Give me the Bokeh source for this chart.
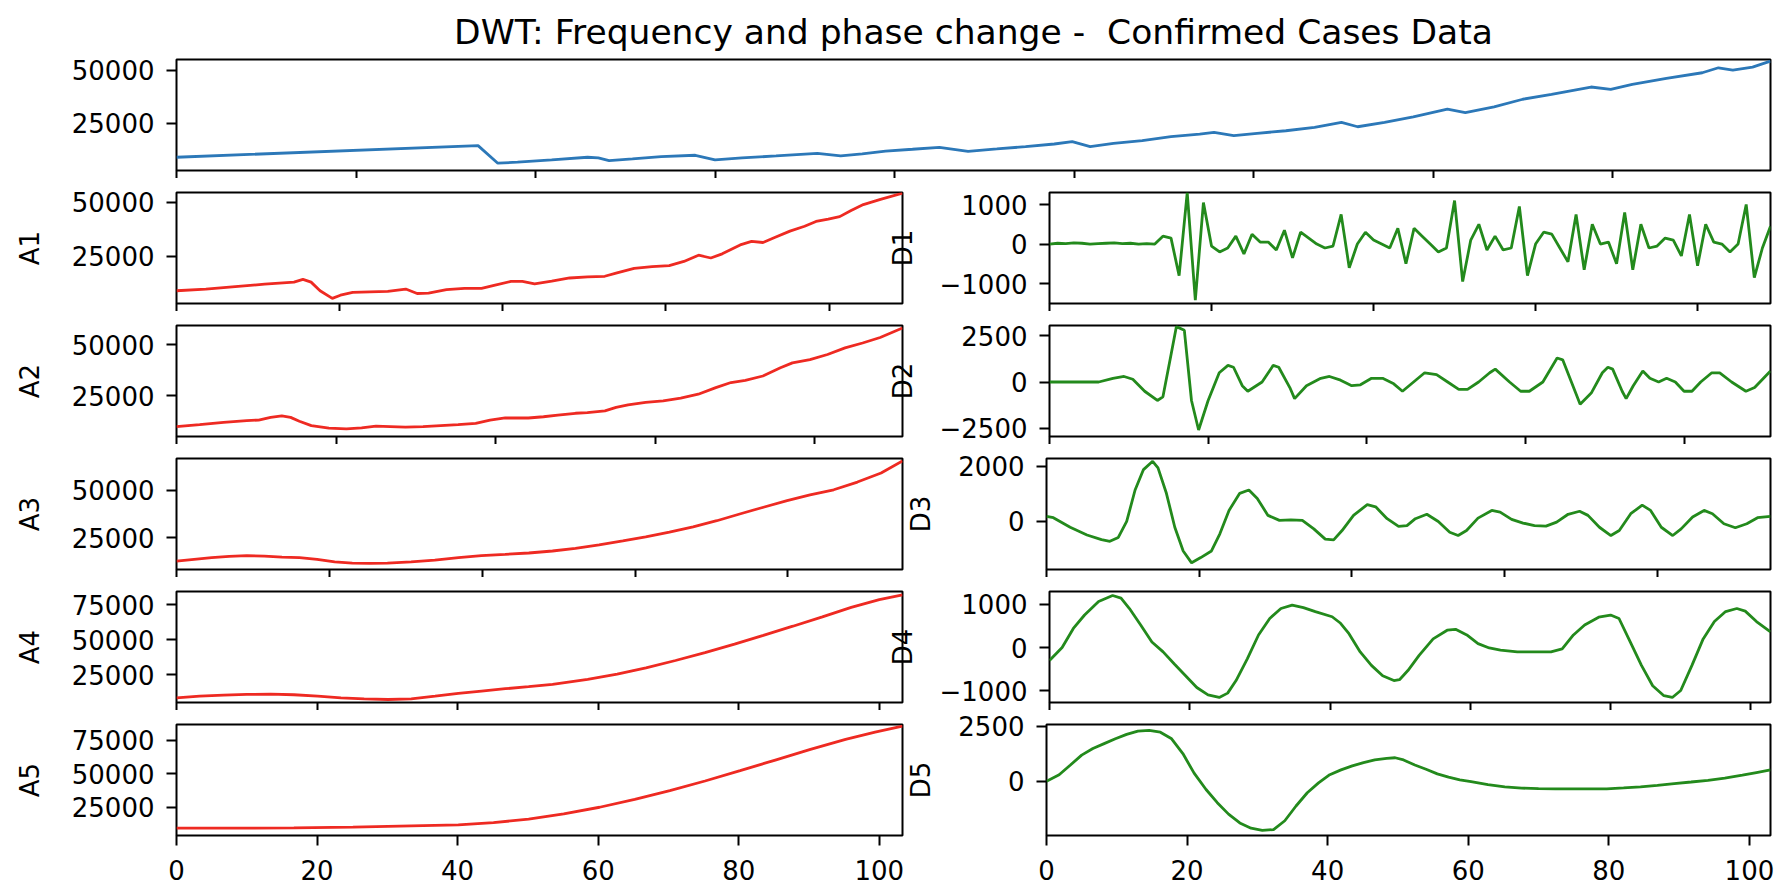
from bokeh.plotting import figure
from bokeh.layouts import column, row
from bokeh.models import Range1d, FixedTicker
from bokeh.embed import file_html
from bokeh.resources import INLINE

TITLE = "DWT: Frequency and phase change -\u00a0 Confirmed Cases Data"

# ---------------- data ----------------
orig_x = [0, 16.8, 17.9, 19, 20.9, 22.9, 23.5, 24.1, 25.4, 27, 28.9, 30, 31.5, 33.4, 35.7, 37, 38.2,
          39.5, 41, 42.5, 44.1, 45.7, 47.3, 48.9, 49.9, 50.9, 52.2, 53.8, 55.4, 57, 57.8, 58.9, 60.2,
          61.8, 63.4, 64.9, 65.8, 67.3, 68.9, 70.8, 71.8, 73.4, 75, 76.6, 78.8, 79.9, 81.1, 83, 85,
          85.9, 86.7, 87.8, 88.8]
orig_y = [9160, 14600, 6370, 6830, 7920, 9160, 8850, 7610, 8390, 9470, 10090, 7920, 8850, 9780, 11020,
          9780, 10710, 12000, 12900, 13820, 11960, 13040, 14130, 15370, 16460, 14130, 15680, 16930,
          18790, 20030, 20810, 19250, 20340, 21580, 23140, 25470, 23450, 25470, 28110, 31680, 30120,
          32760, 36340, 38660, 42080, 40990, 43320, 46120, 48760, 51090, 50000, 51400, 54190]

a1_x = [0, 3.6, 7.2, 10.8, 14.4, 15.5, 16.5, 17.6, 19.1, 20.1, 21.6, 23.7, 25.9, 28.1, 29.5, 30.9,
        33.1, 35.3, 37.4, 38.8, 41.0, 42.4, 43.9, 46.0, 48.2, 50.4, 52.5, 54.0, 56.1, 58.3, 60.4,
        62.2, 64.0, 65.5, 66.9, 69.1, 70.5, 71.9, 73.4, 75.2, 77.0, 78.4, 79.9, 81.3, 82.7, 84.2,
        86.3, 89.0]
a1_y = [9080, 9870, 11000, 12100, 13060, 14330, 13060, 9080, 5570, 7010, 8280, 8600, 8760, 9870,
        7800, 7960, 9550, 10190, 10190, 11460, 13380, 13380, 12260, 13530, 14970, 15450, 15760,
        17360, 19430, 20220, 20700, 22610, 25480, 24200, 26110, 30250, 31850, 31370, 33760, 36620,
        38850, 41080, 42200, 43310, 46180, 48890, 51280, 54140]

a2_x = [0, 2.9, 5.9, 8.8, 10.3, 11.8, 13.2, 14.3, 15.4, 16.9, 19.1, 21.3, 23.2, 25.0, 26.8, 28.7,
        30.9, 33.1, 35.3, 37.5, 39.3, 41.2, 44.1, 46.0, 47.8, 50.0, 51.5, 53.7, 55.1, 56.6, 58.8,
        61.0, 63.2, 65.4, 67.6, 69.5, 71.3, 73.5, 75.7, 77.2, 79.4, 81.6, 83.8, 86.0, 88.2, 91.0]
a2_y = [10000, 11000, 12100, 12900, 13200, 14500, 15200, 14500, 12600, 10500, 9200, 8900, 9400,
        10200, 10000, 9700, 10000, 10500, 11000, 11600, 13200, 14200, 14200, 14800, 15600, 16500,
        16800, 17700, 19400, 20600, 21800, 22600, 23900, 25800, 29000, 31500, 32600, 34700, 38700,
        41100, 42700, 45200, 48400, 50800, 53500, 58100]

a3_x = [0, 2.3, 4.6, 6.9, 9.2, 11.5, 13.8, 16.1, 18.4, 20.7, 23.0, 25.3, 27.6, 30.7, 33.8, 36.9,
        39.9, 43.0, 46.1, 49.2, 52.2, 55.3, 58.4, 61.4, 64.5, 67.6, 70.7, 73.7, 76.8, 79.9, 82.9,
        86.0, 89.1, 92.2, 95.0]
a3_y = [12500, 13390, 14290, 15000, 15360, 15180, 14640, 14290, 13390, 12140, 11430, 11250, 11430,
        12140, 13040, 14290, 15360, 16070, 16790, 17860, 19290, 21070, 23210, 25360, 27860, 30710,
        33930, 37500, 41070, 44640, 47680, 50360, 54460, 59290, 65710]

a4_x = [0, 3.3, 6.7, 10.0, 13.4, 16.7, 20.1, 23.4, 26.7, 30.1, 33.4, 36.8, 40.1, 43.4, 46.8, 50.1,
        53.5, 58.5, 62.7, 66.8, 71.0, 75.2, 79.4, 83.5, 87.7, 91.9, 96.0, 100.0, 103.3]
a4_y = [8650, 9860, 10580, 11060, 11300, 10820, 9860, 8650, 7930, 7450, 7930, 9860, 11780, 13460,
        15150, 16590, 18270, 21870, 25500, 30000, 35300, 40900, 47000, 53300, 59800, 66500, 73200,
        78800, 82200]

a5_x = [0, 8.4, 16.7, 25.1, 33.4, 40.1, 45.1, 50.1, 55.1, 60.2, 65.2, 70.2, 75.2, 80.2, 85.2, 90.2,
        95.2, 99.4, 103.3]
a5_y = [9400, 9400, 9650, 10150, 11140, 11880, 13600, 16100, 20050, 25000, 30940, 37380, 44550,
        52230, 60150, 68070, 75500, 80940, 85400]

d1_y = [0, 20, 10, 30, 20, 0, 10, 20, 30, 10, 20, 0, 10, 0, 200, 150, -800, 1300, -1420, 1050,
        -50, -200, -100, 200, -250, 250, 50, 50, -150, 350, -350, 300, 150, 0, -100, -50, 750,
        -600, 0, 300, 100, 0, -100, 400, -500, 400, 200, 0, -200, -100, 1100, -950, 100, 500,
        -150, 200, -150, -100, 950, -800, 0, 300, 250, -100, -450, 750, -650, 500, 0, 50, -500,
        800, -650, 500, -100, -50, 150, 100, -300, 750, -550, 500, 50, 0, -200, 0, 1000, -850,
        -100, 450]
d1_x = list(range(len(d1_y)))

d2_x = [0, 3, 6.2, 8, 9.4, 10.5, 12, 13.6, 14.3, 15.2, 16, 17, 17.9, 18.8, 20, 21.4, 22.5, 23.2,
        24.3, 25, 26.8, 28.2, 28.9, 30.3, 30.9, 32.4, 34.2, 35.3, 36.7, 38.1, 39.2, 40.6, 42, 43.4,
        44.5, 45.9, 47.3, 48.8, 50.2, 51.6, 52.7, 54.1, 55.5, 56.2, 58, 59.4, 60.5, 62.2, 64, 64.7,
        65.8, 66.9, 68.3, 69.7, 70.4, 71, 72.2, 72.7, 73.6, 74.8, 75.7, 76.8, 77.8, 78.9, 80, 81,
        82.1, 83.5, 84.5, 86, 87.8, 88.9, 90.9]
d2_y = [0, 0, 0, 200, 300, 150, -500, -1000, -800, 1200, 3000, 2800, -1000, -2600, -1000, 500, 900,
        800, -200, -500, 0, 900, 800, -300, -900, -200, 200, 300, 100, -200, -150, 200, 200, -100,
        -500, 0, 500, 400, 0, -400, -400, 0, 500, 700, 0, -500, -500, 0, 1300, 1200, 0, -1200,
        -600, 500, 800, 700, -500, -900, -200, 600, 200, 0, 200, 0, -500, -500, 0, 500, 500, 0,
        -500, -300, 600]

d3_x = [0, 0.9, 3.1, 5.3, 7.2, 8.3, 9.4, 10.5, 11.6, 12.7, 13.9, 14.6, 15.7, 16.8, 17.9, 19.0, 20.2,
        21.6, 22.7, 23.9, 25.3, 26.5, 27.6, 29.0, 30.5, 32.0, 33.5, 35.0, 36.5, 37.6, 38.7, 40.2,
        42.0, 43.1, 44.6, 46.1, 47.2, 48.3, 49.8, 51.3, 52.8, 53.9, 55.0, 56.5, 58.3, 59.4, 60.9,
        62.4, 63.9, 65.4, 66.8, 68.3, 69.8, 70.9, 72.4, 73.9, 75.0, 76.5, 78.0, 79.1, 80.5, 82.0,
        83.1, 84.6, 86.1, 87.2, 88.7, 90.2, 91.7, 93.1, 94.8]
d3_y = [185, 135, -210, -490, -660, -720, -580, 0, 1140, 1880, 2180, 1940, 1020, -210, -1070, -1500,
        -1310, -1070, -450, 400, 1020, 1140, 830, 220, 40, 60, 40, -270, -640, -670, -330, 220, 610,
        530, 100, -180, -150, 100, 260, 0, -390, -510, -330, 120, 400, 340, 75, -60, -150, -170,
        -25, 260, 370, 220, -210, -510, -330, 280, 590, 400, -210, -510, -270, 160, 400, 280, -85,
        -230, -85, 135, 185]

d4_x = [0, 1.8, 3.4, 5.0, 7.0, 9.0, 10.2, 11.4, 13.0, 14.6, 16.2, 17.8, 19.4, 21.0, 22.6, 24.2, 25.4,
        26.6, 28.2, 29.8, 31.4, 33.0, 34.6, 36.2, 37.9, 40.3, 41.5, 42.7, 44.3, 45.9, 47.5, 49.1,
        49.9, 51.1, 52.7, 54.7, 56.7, 57.9, 59.5, 61.1, 62.7, 64.3, 66.7, 69.1, 71.5, 73.1, 74.7,
        76.3, 78.3, 80.0, 81.2, 82.8, 84.4, 86.0, 87.6, 88.8, 90.0, 91.6, 93.2, 94.8, 96.4, 98.0,
        99.2, 100.8, 102.8]
d4_y = [-300, 0, 440, 750, 1060, 1200, 1140, 900, 520, 130, -100, -380, -650, -920, -1090, -1150,
        -1050, -760, -260, 290, 670, 900, 980, 920, 830, 710, 560, 320, -100, -410, -650, -760,
        -740, -530, -180, 200, 400, 420, 290, 90, -10, -60, -100, -100, -100, -30, 290, 520, 700,
        750, 670, 130, -410, -880, -1110, -1150, -990, -410, 200, 600, 830, 900, 840, 600, 360]

d5_x = [0, 1.8, 3.4, 5.0, 6.6, 8.2, 9.8, 11.4, 13.0, 14.6, 16.2, 17.8, 19.4, 21.0, 22.7, 24.3, 25.9,
        27.5, 29.1, 30.7, 32.3, 33.9, 35.5, 37.1, 38.7, 40.3, 41.9, 43.5, 45.1, 46.7, 48.4, 49.6,
        50.8, 52.4, 54.0, 55.6, 57.2, 58.8, 60.4, 62.8, 65.2, 67.6, 70.0, 72.4, 77.3, 79.7, 82.1,
        84.5, 86.9, 89.3, 91.7, 94.1, 96.5, 99.0, 101.0, 103.0]
d5_y = [0, 300, 740, 1190, 1490, 1710, 1930, 2130, 2280, 2310, 2230, 1930, 1260, 370, -370, -970,
        -1490, -1890, -2130, -2230, -2190, -1790, -1120, -520, -70, 300, 520, 700, 850, 970, 1040,
        1070, 970, 740, 550, 340, 190, 70, -15, -150, -250, -310, -330, -340, -340, -340, -300,
        -250, -180, -100, -30, 45, 150, 280, 400, 520]

# axis ranges / ticks / labels
orig_xr, orig_yr = (0, 88.8), (2950, 54970)
a_xr = [(0, 89), (0, 91), (0, 95), (0, 103.3), (0, 103.3)]
a_yr = [(3185, 54460), (5160, 59350), (8040, 66960), (5290, 84600), (3960, 86630)]
d_xr = [(0, 89), (0, 90.9), (0, 94.8), (0, 102.8), (0, 103)]
d_yr = [(-1504, 1304), (-2950, 3060), (-1742, 2282), (-1266, 1292), (-2460, 2580)]

orig_xticks = [0, 10, 20, 30, 40, 50, 60, 70, 80]
level_xticks = [[0, 20, 40, 60, 80], [0, 20, 40, 60, 80], [0, 20, 40, 60, 80],
                [0, 20, 40, 60, 80, 100], [0, 20, 40, 60, 80, 100]]
orig_yticks = [25000, 50000]
orig_ylabels = ["25000", "50000"]
a_yticks = [[25000, 50000], [25000, 50000], [25000, 50000],
            [25000, 50000, 75000], [25000, 50000, 75000]]
a_ylabels = [["25000", "50000"], ["25000", "50000"], ["25000", "50000"],
             ["25000", "50000", "75000"], ["25000", "50000", "75000"]]
d_yticks = [[-1000, 0, 1000], [-2500, 0, 2500], [0, 2000], [-1000, 0, 1000], [0, 2500]]
d_ylabels = [["\u22121000", "0", "1000"], ["\u22122500", "0", "2500"], ["0", "2000"],
             ["\u22121000", "0", "1000"], ["0", "2500"]]
a_names = ["A1", "A2", "A3", "A4", "A5"]
d_names = ["D1", "D2", "D3", "D4", "D5"]

a_series = [(a1_x, a1_y), (a2_x, a2_y), (a3_x, a3_y), (a4_x, a4_y), (a5_x, a5_y)]
d_series = [(d1_x, d1_y), (d2_x, d2_y), (d3_x, d3_y), (d4_x, d4_y), (d5_x, d5_y)]

BLUE, RED, GREEN = "#2c78b8", "#ee2a22", "#238a1c"
FONT = "DejaVu Sans"
TICK_FS = "26px"

# layout (px)
LEFT_B = 176
A_FRAME_W = 726
D_FRAME_W = 724
GAP = 144          # A frame right edge -> D frame left edge
RIGHT_B = 8
FRAME_H = 111
A_RB = 2           # right border of the A figures
OVERLAP = 20       # D figures slide under/over the A figures' right edge (like matplotlib)


def make_fig(width, height, xr, yr, xticks, yticks, ylabels, borders, show_xlabels, ylabel=None,
             lab_standoff=0, xtick_out=10):
    bl, br, bt, bb = borders
    p = figure(width=width, height=height, x_range=Range1d(*xr), y_range=Range1d(*yr),
               output_backend="svg", toolbar_location=None,
               min_border_left=bl, min_border_right=br, min_border_top=bt, min_border_bottom=bb)
    p.grid.visible = False
    p.outline_line_color = "black"
    p.outline_line_width = 2
    p.background_fill_color = "white"
    p.border_fill_color = "white"
    for ax in (p.xaxis[0], p.yaxis[0]):
        ax.axis_line_color = None
        ax.major_tick_line_color = "black"
        ax.major_tick_line_width = 2
        ax.major_tick_out = 10
        ax.major_tick_in = 0
        ax.minor_tick_line_color = None
        ax.major_label_text_font = FONT
        ax.major_label_text_font_size = TICK_FS
        ax.major_label_text_color = "black"
        ax.major_label_standoff = 12
    p.xaxis.major_tick_out = xtick_out
    p.xaxis.ticker = FixedTicker(ticks=xticks)
    p.yaxis.ticker = FixedTicker(ticks=yticks)
    p.yaxis.major_label_overrides = {t: s for t, s in zip(yticks, ylabels)}
    if show_xlabels:
        p.xaxis.major_label_standoff = 14
    else:
        p.xaxis.major_label_overrides = {t: "" for t in xticks}
        p.xaxis.major_label_text_font_size = "0px"
        p.xaxis.major_label_standoff = 0
    if ylabel:
        p.yaxis.axis_label = ylabel
        p.yaxis.axis_label_text_font = FONT
        p.yaxis.axis_label_text_font_size = TICK_FS
        p.yaxis.axis_label_text_font_style = "normal"
        p.yaxis.axis_label_text_color = "black"
        p.yaxis.axis_label_standoff = lab_standoff
    return p


top_w = LEFT_B + A_FRAME_W + GAP + D_FRAME_W + RIGHT_B
top = make_fig(top_w, 59 + FRAME_H + 8, orig_xr, orig_yr, orig_xticks, orig_yticks, orig_ylabels,
               (LEFT_B, RIGHT_B, 59, 8), False, xtick_out=8)
top.title.text = TITLE
top.title.align = "center"
top.title.text_font = FONT
top.title.text_font_size = "34.5px"
top.title.text_font_style = "normal"
top.title.text_color = "black"
top.title.standoff = 15
top.line(orig_x, orig_y, line_color=BLUE, line_width=2.8)

rows = [top]
d_left_b = GAP - A_RB + OVERLAP
for i in range(5):
    last = (i == 4)
    bb = 52 if last else 8
    h = 14 + FRAME_H + bb
    lf = make_fig(LEFT_B + A_FRAME_W + A_RB, h, a_xr[i], a_yr[i], level_xticks[i], a_yticks[i],
                  a_ylabels[i], (LEFT_B, A_RB, 14, bb), last, a_names[i], 24,
                  xtick_out=10 if last else 8)
    lf.line(a_series[i][0], a_series[i][1], line_color=RED, line_width=2.8)
    rf = make_fig(d_left_b + D_FRAME_W + RIGHT_B, h, d_xr[i], d_yr[i], level_xticks[i], d_yticks[i],
                  d_ylabels[i], (d_left_b, RIGHT_B, 14, bb), last, d_names[i], 19,
                  xtick_out=10 if last else 8)
    rf.border_fill_color = None
    rf.margin = (0, 0, 0, -OVERLAP)
    rf.line(d_series[i][0], d_series[i][1], line_color=GREEN, line_width=2.8)
    rows.append(row(lf, rf, spacing=0))

layout = column(*rows, spacing=0)
open("out.html", "w").write(file_html(layout, INLINE))
